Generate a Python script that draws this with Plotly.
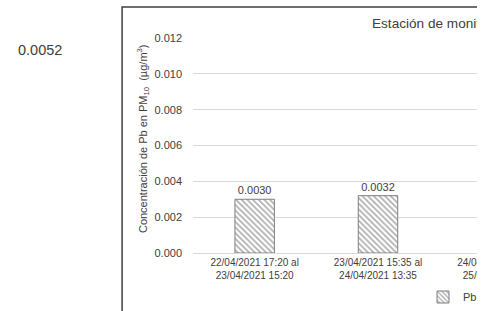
import plotly.graph_objects as go

categories = [
    "22/04/2021 17:20 al<br>23/04/2021 15:20",
    "23/04/2021 15:35 al<br>24/04/2021 13:35",
    "24/04/2021 13:50 al<br>25/04/2021 11:50",
]
pb_values = [0.0030, 0.0032, 0.0031]
pb_labels = ["0.0030", "0.0032", "0.0031"]
y_ticks = [0.000, 0.002, 0.004, 0.006, 0.008, 0.010, 0.012]
y_tick_text = ["0.000", "0.002", "0.004", "0.006", "0.008", "0.010", "0.012"]

W, H = 620, 311
L, T, B = 193, 38, 58
PW = 3 * 123.5
PH = H - T - B
R = W - L - PW

def px_x(px):
    return (px - L) / PW

def px_y(py):
    return (H - B - py) / PH

FONT = "Liberation Sans, Arial, sans-serif"

fig = go.Figure()
fig.add_trace(go.Bar(
    x=categories, y=pb_values, name="Pb",
    width=0.32,
    marker=dict(
        color="white",
        line=dict(color="#7f7f7f", width=1),
        pattern=dict(shape="\\", fgcolor="#595959", bgcolor="white", size=4, solidity=0.4),
    ),
    text=pb_labels, textposition="outside", cliponaxis=False,
    textfont=dict(size=11, color="#404040", family=FONT),
))

fig.update_layout(
    width=W, height=H,
    margin=dict(l=L, r=R, t=T, b=B, autoexpand=False),
    paper_bgcolor="white", plot_bgcolor="white",
    font=dict(family=FONT, color="#404040"),
    title=dict(text="Estación de monitoreo", x=372 / W, xanchor="left", xref="container",
               y=1 - 23 / H, yanchor="middle", yref="container",
               font=dict(size=13.6, color="#404040", family=FONT)),
    showlegend=True,
    legend=dict(orientation="h", x=423 / W, xanchor="left", xref="container",
                y=1 - 297 / H, yanchor="middle", yref="container",
                font=dict(size=11, color="#404040", family=FONT),
                itemwidth=30, bgcolor="rgba(0,0,0,0)"),
)
fig.update_xaxes(
    type="category", range=[-0.5, 2.5], automargin=False,
    showgrid=False, showline=True, linecolor="#d9d9d9", linewidth=1,
    ticks="", tickfont=dict(size=10, color="#404040", family=FONT),
    fixedrange=True,
)
fig.update_yaxes(
    range=[0, 0.012], tickvals=y_ticks, ticktext=y_tick_text, automargin=False,
    showgrid=True, gridcolor="#d9d9d9", gridwidth=1,
    zeroline=False, showline=False,
    ticks="", ticklabelstandoff=10,
    tickfont=dict(size=11, color="#404040", family=FONT),
    fixedrange=True,
)

# chart border (outer frame of the cropped chart)
fig.add_shape(type="rect", xref="paper", yref="paper",
              x0=px_x(122), x1=px_x(W - 12), y0=px_y(330), y1=px_y(7),
              line=dict(color="#3f3f3f", width=1.5), fillcolor="rgba(0,0,0,0)", layer="above")

fig.add_annotation(
    text="Concentración de Pb en PM<sub>10</sub>  (µg/m<sup>3</sup>)",
    xref="paper", yref="paper", x=px_x(143), y=px_y(139),
    xanchor="center", yanchor="middle",
    textangle=-90, showarrow=False, font=dict(size=11, color="#404040", family=FONT),
)
fig.add_annotation(
    text="0.0052", xref="paper", yref="paper", x=px_x(40), y=px_y(50),
    xanchor="center", yanchor="middle",
    showarrow=False, font=dict(size=14.5, color="#404040", family=FONT),
)

post = """
var gd = document.getElementById('{plot_id}');
document.body.style.margin = '0';
document.body.style.overflow = 'hidden';
gd.parentElement.style.width = '477px';
gd.parentElement.style.overflow = 'hidden';
"""
fig.write_html("out.html", config={"displayModeBar": False}, post_script=post)
